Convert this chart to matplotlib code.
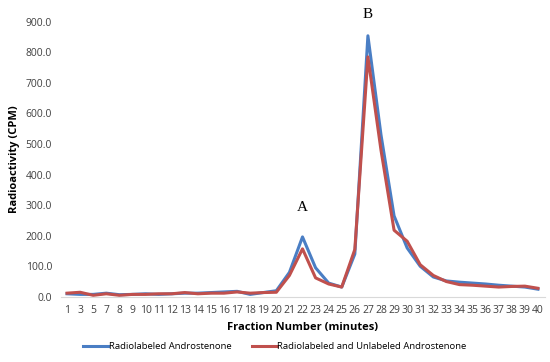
import matplotlib.pyplot as plt

fractions = ["1", "3", "5", "7"] + [str(i) for i in range(8, 41)]

radiolabeled = [10, 8, 8, 12, 7, 8, 10, 8, 10, 12, 12, 14, 16, 18, 8, 14, 20,
                80, 196, 95, 45, 32, 140, 854, 530, 265, 160, 100, 65, 52, 48,
                45, 42, 38, 35, 32, 25]
radio_unlabeled = [12, 15, 5, 10, 5, 8, 8, 10, 10, 14, 10, 12, 12, 16, 12, 14, 15,
                   70, 157, 62, 42, 32, 155, 785, 480, 218, 182, 105, 70, 50, 40,
                   38, 35, 32, 34, 35, 28]

plt.rcParams['font.family'] = ['Open Sans', 'DejaVu Sans']

fig = plt.figure(figsize=(5.5, 3.62), dpi=100)
ax = fig.add_axes([0.11, 0.18, 0.88, 0.76])

x = list(range(len(fractions)))
ax.plot(x, radiolabeled, color='#4A7EC4', linewidth=2.2, label='Radiolabeled Androstenone')
ax.plot(x, radio_unlabeled, color='#C0504D', linewidth=2.2,
        label='Radiolabeled and Unlabeled Androstenone')

ax.set_xlim(-0.5, len(fractions) - 0.5)
ax.set_ylim(0, 900)
ax.set_xticks(x)
ax.set_xticklabels(fractions, fontsize=7.5, color='#404040')
ax.set_yticks(range(0, 901, 100))
ax.set_yticklabels([f'{v:.1f}' for v in range(0, 901, 100)], fontsize=7.5, color='#404040')
ax.tick_params(length=0, pad=6)

for side in ['top', 'right', 'left']:
    ax.spines[side].set_visible(False)
ax.spines['bottom'].set_color('#D9D9D9')

ax.set_xlabel('Fraction Number (minutes)', fontsize=8, fontweight='bold', labelpad=4)
ax.set_ylabel('Radioactivity (CPM)', fontsize=8, fontweight='bold', labelpad=4)

# etiquetas de los picos
ax.text(fractions.index('22'), 291, 'A', family='Liberation Serif', fontsize=11,
        ha='center', va='center')
ax.text(fractions.index('27'), 923, 'B', family='Liberation Serif', fontsize=11,
        ha='center', va='center', clip_on=False)

ax.legend(loc='center', bbox_to_anchor=(0.443, -0.18), ncol=2, frameon=False,
          fontsize=6.8, handlelength=2.6, columnspacing=2.2, handletextpad=0.1,
          borderaxespad=0, borderpad=0)

plt.savefig('out.png', dpi=100)
plt.close()
